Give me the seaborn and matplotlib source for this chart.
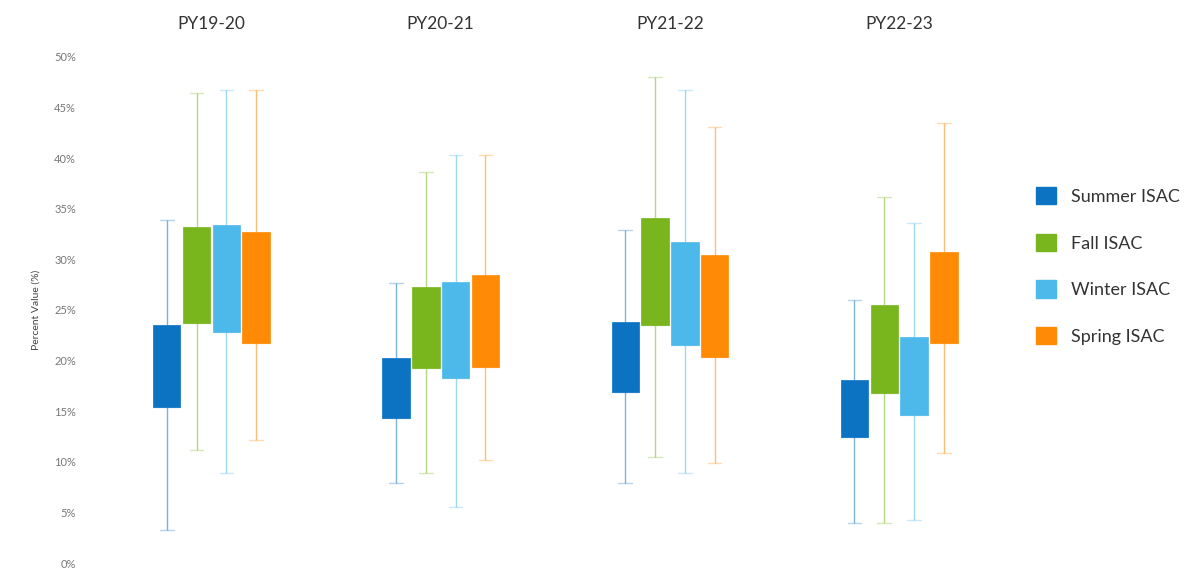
import numpy as np
import pandas as pd
import matplotlib
matplotlib.use("Agg")
import matplotlib.pyplot as plt
import seaborn as sns
from matplotlib.patches import Patch
from matplotlib.ticker import PercentFormatter

# program years and ISAC seasons
years = ["PY19-20", "PY20-21", "PY21-22", "PY22-23"]
seasons = ["Summer ISAC", "Fall ISAC", "Winter ISAC", "Spring ISAC"]
colors = ["#0b73c2", "#79b51d", "#4cb9ea", "#ff8a05"]

# whisker ends and box edges (%), one value per year
summer_low = [3.3, 7.9, 7.9, 4.0]
summer_q1 = [15.4, 14.3, 16.9, 12.5]
summer_q3 = [23.5, 20.3, 23.8, 18.1]
summer_high = [33.9, 27.7, 32.9, 26.0]

fall_low = [11.2, 8.9, 10.5, 4.0]
fall_q1 = [23.7, 19.3, 23.5, 16.8]
fall_q3 = [33.2, 27.3, 34.1, 25.5]
fall_high = [46.4, 38.6, 48.0, 36.2]

winter_low = [8.9, 5.5, 8.9, 4.2]
winter_q1 = [22.8, 18.3, 21.5, 14.6]
winter_q3 = [33.4, 27.8, 31.7, 22.3]
winter_high = [46.7, 40.3, 46.7, 33.6]

spring_low = [12.2, 10.2, 9.9, 10.9]
spring_q1 = [21.7, 19.4, 20.4, 21.7]
spring_q3 = [32.7, 28.5, 30.4, 30.7]
spring_high = [46.7, 40.3, 43.1, 43.5]

stats = {
    "Summer ISAC": (summer_low, summer_q1, summer_q3, summer_high),
    "Fall ISAC": (fall_low, fall_q1, fall_q3, fall_high),
    "Winter ISAC": (winter_low, winter_q1, winter_q3, winter_high),
    "Spring ISAC": (spring_low, spring_q1, spring_q3, spring_high),
}

# five points per box so the quartiles land on q1 / q3 and whiskers on min / max
rows = []
for season in seasons:
    lo, q1, q3, hi = stats[season]
    for i, year in enumerate(years):
        for v in (lo[i], q1[i], q1[i], q3[i], hi[i]):
            rows.append({"year": year, "season": season, "value": v})
df = pd.DataFrame(rows)

sns.set_style("white")
plt.rcParams["font.family"] = ["Lato", "DejaVu Sans"]

fig = plt.figure(figsize=(12.04, 5.75), dpi=100)
ax = fig.add_axes([90 / 1204, 12 / 575, 910 / 1204, 506 / 575])

sns.boxplot(data=df, x="year", y="value", hue="season", order=years,
            hue_order=seasons, palette=colors, whis=(0, 100), width=0.52,
            gap=0.08, saturation=1, linewidth=1, showfliers=False,
            medianprops={"alpha": 0}, capprops={"alpha": 0.3}, ax=ax)

# recolour whiskers to their box, drop box outlines
centers = []
for p in ax.patches:
    ext = p.get_path().get_extents()
    centers.append(((ext.x0 + ext.x1) / 2, p.get_facecolor()))
    p.set_edgecolor(p.get_facecolor())
    p.set_linewidth(0.5)
for ln in ax.lines:
    xd = np.asarray(ln.get_xdata(), dtype=float)
    if xd.size == 0:
        continue
    xm = xd.mean()
    fc = min(centers, key=lambda c: abs(c[0] - xm))[1]
    is_cap = xd.size == 2 and xd[0] != xd[1]
    ln.set_color(fc)
    ln.set_alpha(0.3 if is_cap else 0.55)
    ln.set_linewidth(1.0)

ax.set_ylim(0, 50)
ax.set_xlim(-0.53, 3.44)
ax.yaxis.set_major_locator(plt.MultipleLocator(5))
ax.yaxis.set_major_formatter(PercentFormatter(decimals=0))
ax.tick_params(axis="y", labelsize=8, colors="#777777", length=0, pad=10)

ax.xaxis.tick_top()
ax.tick_params(axis="x", labelsize=12.5, colors="#333333", length=0, pad=18)
ax.set_xlabel("")
ax.set_ylabel("Percent Value (%)", fontsize=7.5, color="#444444", labelpad=10)
sns.despine(ax=ax, left=True, bottom=True)

ax.get_legend().remove()
handles = [Patch(facecolor=c, edgecolor=c) for c in colors]
fig.legend(handles, seasons, loc="center left",
           bbox_to_anchor=(1020 / 1204, (575 - 266) / 575), frameon=False,
           fontsize=13, handlelength=1.1, handleheight=1.1,
           labelspacing=1.6, handletextpad=0.8, labelcolor="#333333")

fig.savefig("out.png", dpi=100)
